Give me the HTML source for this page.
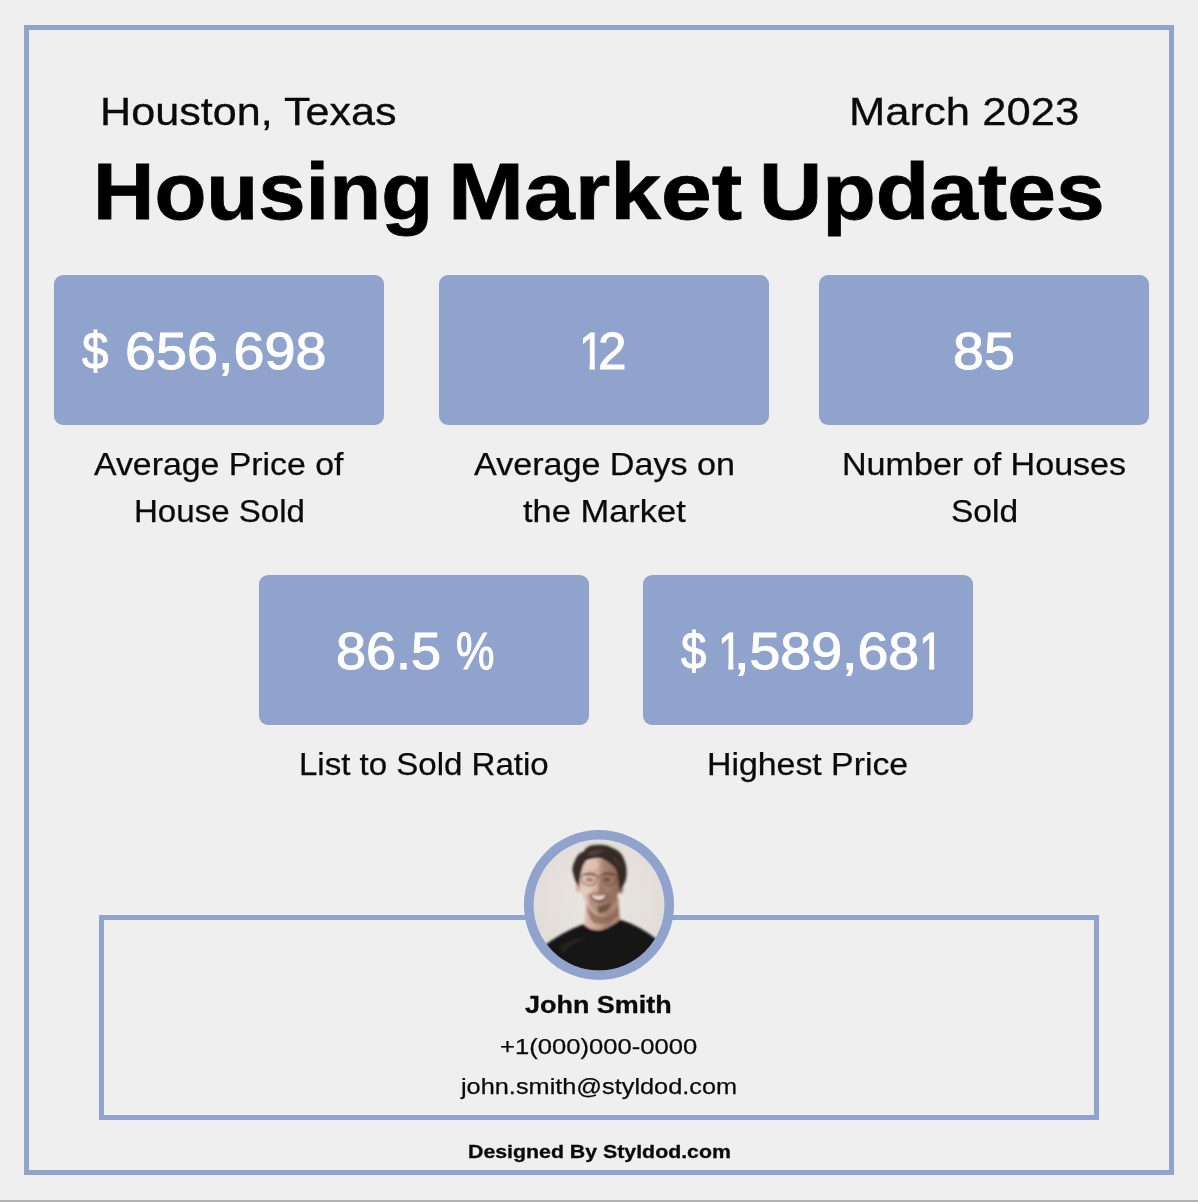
<!DOCTYPE html>
<html lang="en"><head><meta charset="utf-8"><title>Housing Market Updates</title>
<style>
html,body{margin:0;padding:0}
body{width:1198px;height:1202px;position:relative;overflow:hidden;background:#efefef;font-family:"Liberation Sans",sans-serif}
header,main,section,footer,p,h1{margin:0;padding:0;font-size:0;line-height:0}
.t{position:absolute;white-space:nowrap;line-height:1;transform-origin:0 0;margin:0;display:block;font-weight:400}
#loc{left:100.28px;top:91.74px;font-size:39.6px;color:#0a0a0a;transform:scaleX(1.0903);-webkit-text-stroke:0.3px #0a0a0a;}
#date{left:849.16px;top:91.74px;font-size:39.6px;color:#0a0a0a;transform:scaleX(1.101);-webkit-text-stroke:0.3px #0a0a0a;}
#t1{left:93.12px;top:151.8px;font-size:80px;font-weight:700;color:#000;transform:scaleX(1.0631);-webkit-text-stroke:0.8px #000;}
#t2{left:447.88px;top:151.8px;font-size:80px;font-weight:700;color:#000;transform:scaleX(1.1407);-webkit-text-stroke:0.8px #000;}
#t3{left:759.12px;top:151.8px;font-size:80px;font-weight:700;color:#000;transform:scaleX(1.0951);-webkit-text-stroke:0.8px #000;}
#n1a{left:82.04px;top:325.99px;font-size:51.2px;color:#fff;transform:scaleX(0.9286);-webkit-text-stroke:1.0px #fff;}
#n1b{left:125.28px;top:325.99px;font-size:51.2px;color:#fff;transform:scaleX(1.0884);-webkit-text-stroke:1.0px #fff;}
#n2a{left:578.94px;top:325.99px;font-size:51.2px;color:#fff;transform:scaleX(0.8786);-webkit-text-stroke:1.0px #fff;clip-path:polygon(0.08em 0,0.352em 0,0.352em 0.9em,0.235em 0.9em,0.235em 0.742em,0.08em 0.742em);}
#n2b{left:598.32px;top:325.99px;font-size:51.2px;color:#fff;transform:scaleX(1.0009);-webkit-text-stroke:1.0px #fff;}
#n3{left:952.85px;top:325.99px;font-size:51.2px;color:#fff;transform:scaleX(1.0853);-webkit-text-stroke:1.0px #fff;}
#n4a{left:335.88px;top:625.99px;font-size:51.2px;color:#fff;transform:scaleX(1.0553);-webkit-text-stroke:1.0px #fff;}
#n4b{left:456.19px;top:625.99px;font-size:51.2px;color:#fff;transform:scaleX(0.8464);-webkit-text-stroke:1.0px #fff;}
#n5a{left:680.98px;top:625.99px;font-size:51.2px;color:#fff;transform:scaleX(0.8929);-webkit-text-stroke:1.0px #fff;}
#n5b{left:718.07px;top:625.99px;font-size:51.2px;color:#fff;transform:scaleX(0.8561);-webkit-text-stroke:1.0px #fff;clip-path:polygon(0.08em 0,0.352em 0,0.352em 0.9em,0.235em 0.9em,0.235em 0.742em,0.08em 0.742em);}
#n5c{left:733.78px;top:625.99px;font-size:51.2px;color:#fff;transform:scaleX(1.0846);-webkit-text-stroke:1.0px #fff;}
#n5d{left:918.7px;top:625.99px;font-size:51.2px;color:#fff;transform:scaleX(0.8444);-webkit-text-stroke:1.0px #fff;clip-path:polygon(0.08em 0,0.352em 0,0.352em 0.9em,0.235em 0.9em,0.235em 0.742em,0.08em 0.742em);}
#l1a{left:94.41px;top:448.79px;font-size:31.2px;color:#0a0a0a;transform:scaleX(1.0845);-webkit-text-stroke:0.25px #0a0a0a;}
#l1b{left:133.85px;top:495.79px;font-size:31.2px;color:#0a0a0a;transform:scaleX(1.06);-webkit-text-stroke:0.25px #0a0a0a;}
#l2a{left:474.25px;top:448.79px;font-size:31.2px;color:#0a0a0a;transform:scaleX(1.0933);-webkit-text-stroke:0.25px #0a0a0a;}
#l2b{left:523.45px;top:495.79px;font-size:31.2px;color:#0a0a0a;transform:scaleX(1.1048);-webkit-text-stroke:0.25px #0a0a0a;}
#l3a{left:841.82px;top:448.79px;font-size:31.2px;color:#0a0a0a;transform:scaleX(1.0927);-webkit-text-stroke:0.25px #0a0a0a;}
#l3b{left:950.87px;top:495.79px;font-size:31.2px;color:#0a0a0a;transform:scaleX(1.0746);-webkit-text-stroke:0.25px #0a0a0a;}
#l4{left:299.38px;top:748.79px;font-size:31.2px;color:#0a0a0a;transform:scaleX(1.0592);-webkit-text-stroke:0.25px #0a0a0a;}
#l5{left:707.28px;top:748.79px;font-size:31.2px;color:#0a0a0a;transform:scaleX(1.0846);-webkit-text-stroke:0.25px #0a0a0a;}
#name{left:525.49px;top:994.18px;font-size:23.6px;font-weight:700;color:#0a0a0a;transform:scaleX(1.1417);-webkit-text-stroke:0.3px #0a0a0a;}
#phone{left:500.42px;top:1034.76px;font-size:22.9px;color:#0a0a0a;transform:scaleX(1.1189);-webkit-text-stroke:0.25px #0a0a0a;}
#email{left:461.15px;top:1076.02px;font-size:22.6px;color:#0a0a0a;transform:scaleX(1.1203);-webkit-text-stroke:0.25px #0a0a0a;}
#credit{left:467.94px;top:1143.04px;font-size:18.7px;font-weight:700;color:#0a0a0a;transform:scaleX(1.1406);-webkit-text-stroke:0.3px #0a0a0a;}
.frame{position:absolute;left:24px;top:25px;width:1140px;height:1140px;border:5px solid #8fa3cc}
.card{position:absolute;width:330px;height:150px;border-radius:9px;background:#8fa3cc}
.box{position:absolute;left:99px;top:915px;width:990px;height:195px;border:5px solid #8fa3cc}
.strip{position:absolute;left:0;top:1200px;width:1198px;height:2px;background:#b3b3b3}
.avatar{position:absolute;left:519px;top:825px;width:160px;height:160px}
</style></head><body>
<div class="frame"></div>
<header>
<div class="t" id="loc">Houston, Texas</div>
<div class="t" id="date">March 2023</div>
<h1><span class="t" id="t1">Housing</span> <span class="t" id="t2">Market</span> <span class="t" id="t3">Updates</span></h1>
</header>
<main class="stats">
<section class="stat">
<div class="card" style="left:54px;top:275px"></div>
<div class="num"><span class="t" id="n1a">$</span> <span class="t" id="n1b">656,698</span></div>
<p class="lbl"><span class="t" id="l1a">Average Price of</span> <span class="t" id="l1b">House Sold</span></p>
</section>
<section class="stat">
<div class="card" style="left:439px;top:275px"></div>
<div class="num"><span class="t" id="n2a">1</span><span class="t" id="n2b">2</span></div>
<p class="lbl"><span class="t" id="l2a">Average Days on</span> <span class="t" id="l2b">the Market</span></p>
</section>
<section class="stat">
<div class="card" style="left:819px;top:275px"></div>
<div class="num"><span class="t" id="n3">85</span></div>
<p class="lbl"><span class="t" id="l3a">Number of Houses</span> <span class="t" id="l3b">Sold</span></p>
</section>
<section class="stat">
<div class="card" style="left:259px;top:575px"></div>
<div class="num"><span class="t" id="n4a">86.5</span> <span class="t" id="n4b">%</span></div>
<p class="lbl"><span class="t" id="l4">List to Sold Ratio</span></p>
</section>
<section class="stat">
<div class="card" style="left:643px;top:575px"></div>
<div class="num"><span class="t" id="n5a">$</span> <span class="t" id="n5b">1</span><span class="t" id="n5c">,589,68</span><span class="t" id="n5d">1</span></div>
<p class="lbl"><span class="t" id="l5">Highest Price</span></p>
</section>
</main>
<footer class="contact">
<div class="box"></div>
<svg class="avatar" viewBox="0 0 1198 1198">
<defs>
<clipPath id="avc"><circle cx="599" cy="599" r="490"/></clipPath>
<filter id="b1" x="-20%" y="-20%" width="140%" height="140%"><feGaussianBlur stdDeviation="8"/></filter>
<filter id="b2" x="-30%" y="-30%" width="160%" height="160%"><feGaussianBlur stdDeviation="12"/></filter>
<radialGradient id="bgG" cx="0.5" cy="0.45" r="0.6"><stop offset="0" stop-color="#ebe7e3"/><stop offset="1" stop-color="#e0dbd7"/></radialGradient>
<linearGradient id="skinG" x1="0" y1="0" x2="1" y2="0"><stop offset="0" stop-color="#e2c7ba"/><stop offset="0.42" stop-color="#d3ae9d"/><stop offset="0.6" stop-color="#ab8472"/><stop offset="1" stop-color="#8c6858"/></linearGradient>
<linearGradient id="neckG" x1="0" y1="0" x2="1" y2="0"><stop offset="0" stop-color="#dfc0b2"/><stop offset="0.35" stop-color="#caa391"/><stop offset="0.65" stop-color="#a17b69"/><stop offset="1" stop-color="#b8907e"/></linearGradient>
</defs>
<circle cx="599" cy="599" r="562" fill="#8fa3cc"/>
<g clip-path="url(#avc)">
<rect x="100" y="100" width="1000" height="1000" fill="url(#bgG)"/>
<g filter="url(#b1)">
<!-- neck -->
<path d="M500 560 Q498 690 484 762 Q600 850 762 722 Q748 650 746 540 Z" fill="url(#neckG)"/>
<!-- shirt -->
<path d="M170 920 Q300 810 482 742 Q590 850 758 708 Q900 750 1050 870 L1100 1100 L100 1100 Z" fill="#161616"/>
<path d="M300 905 Q420 835 520 842 Q400 880 330 965 Z" fill="#2e2e2e" opacity="0.6"/>
<!-- under-chin shadow -->
<path d="M505 600 Q560 690 640 690 Q700 680 742 600 L746 680 Q660 760 560 735 Q520 700 505 600 Z" fill="#8a6656" opacity="0.75"/>
<!-- ears -->
<ellipse cx="445" cy="462" rx="20" ry="44" fill="#d6b0a0"/>
<ellipse cx="760" cy="470" rx="20" ry="44" fill="#8f6757"/>
<!-- face -->
<path d="M462 300 Q450 430 472 515 Q510 630 606 664 Q690 648 730 555 Q760 470 748 320 Q600 200 462 300 Z" fill="url(#skinG)"/>
<ellipse cx="512" cy="478" rx="38" ry="48" fill="#e8cec2" opacity="0.7"/>
<ellipse cx="540" cy="300" rx="60" ry="34" fill="#e3c8bb" opacity="0.7"/>
<!-- eyes -->
<ellipse cx="655" cy="410" rx="28" ry="18" fill="#4a382c" opacity="0.6"/>
<ellipse cx="528" cy="410" rx="26" ry="12" fill="#7a5a4c" opacity="0.85"/>
<path d="M492 372 Q530 355 570 372" stroke="#5a4136" stroke-width="9" fill="none"/>
<path d="M622 368 Q670 352 715 372" stroke="#3f2f27" stroke-width="9" fill="none"/>
<!-- nose shadow -->
<path d="M602 400 L644 498 L592 505 Z" fill="#8e6b5a" opacity="0.7"/>
<!-- beard shadow -->
<path d="M516 520 Q560 492 600 498 Q650 492 704 528 Q702 618 606 664 Q556 648 528 598 Z" fill="#866655" opacity="0.45"/>
<path d="M588 612 Q640 604 692 588 Q672 650 606 664 Q588 650 588 612 Z" fill="#5f4c3c" opacity="0.8"/>
<!-- hair -->
<path d="M450 462 Q420 430 404 355 Q392 318 415 275 Q436 212 485 198 Q502 158 560 150 Q650 138 702 173 Q768 198 788 260 Q815 320 802 398 Q796 442 752 484 Q746 430 740 395 Q735 340 714 315 Q660 262 600 247 Q540 246 502 266 Q476 300 468 340 Q456 380 450 462 Z" fill="#352925"/>
<path d="M498 214 Q560 174 655 190 Q600 202 560 236 Z" fill="#5a473e" opacity="0.8"/>
<path d="M700 230 Q760 270 770 340 Q740 290 700 260 Z" fill="#4a3a33" opacity="0.8"/>
<!-- mouth -->
<path d="M528 518 Q600 540 664 512 Q650 575 596 578 Q545 570 528 518 Z" fill="#6b4036"/>
<path d="M538 524 Q600 542 654 520 Q636 560 596 560 Q556 558 538 524 Z" fill="#f3ebe6"/>
</g>
<g fill="none" stroke="#6a4a3c" stroke-width="8" opacity="0.8" filter="url(#b1)">
<path d="M458 378 Q520 360 585 378 Q590 450 530 452 Q465 450 458 378 Z"/>
<path d="M612 378 Q670 360 738 378 Q735 450 672 452 Q615 450 612 378 Z"/>
<path d="M585 392 Q598 384 612 392 M458 385 L440 392 M738 385 L765 398"/>
</g>
</g>
</svg>
<div class="t" id="name">John Smith</div>
<div class="t" id="phone">+1(000)000-0000</div>
<div class="t" id="email">john.smith@styldod.com</div>
</footer>
<div class="t" id="credit">Designed By Styldod.com</div>
<div class="strip"></div>
</body></html>
